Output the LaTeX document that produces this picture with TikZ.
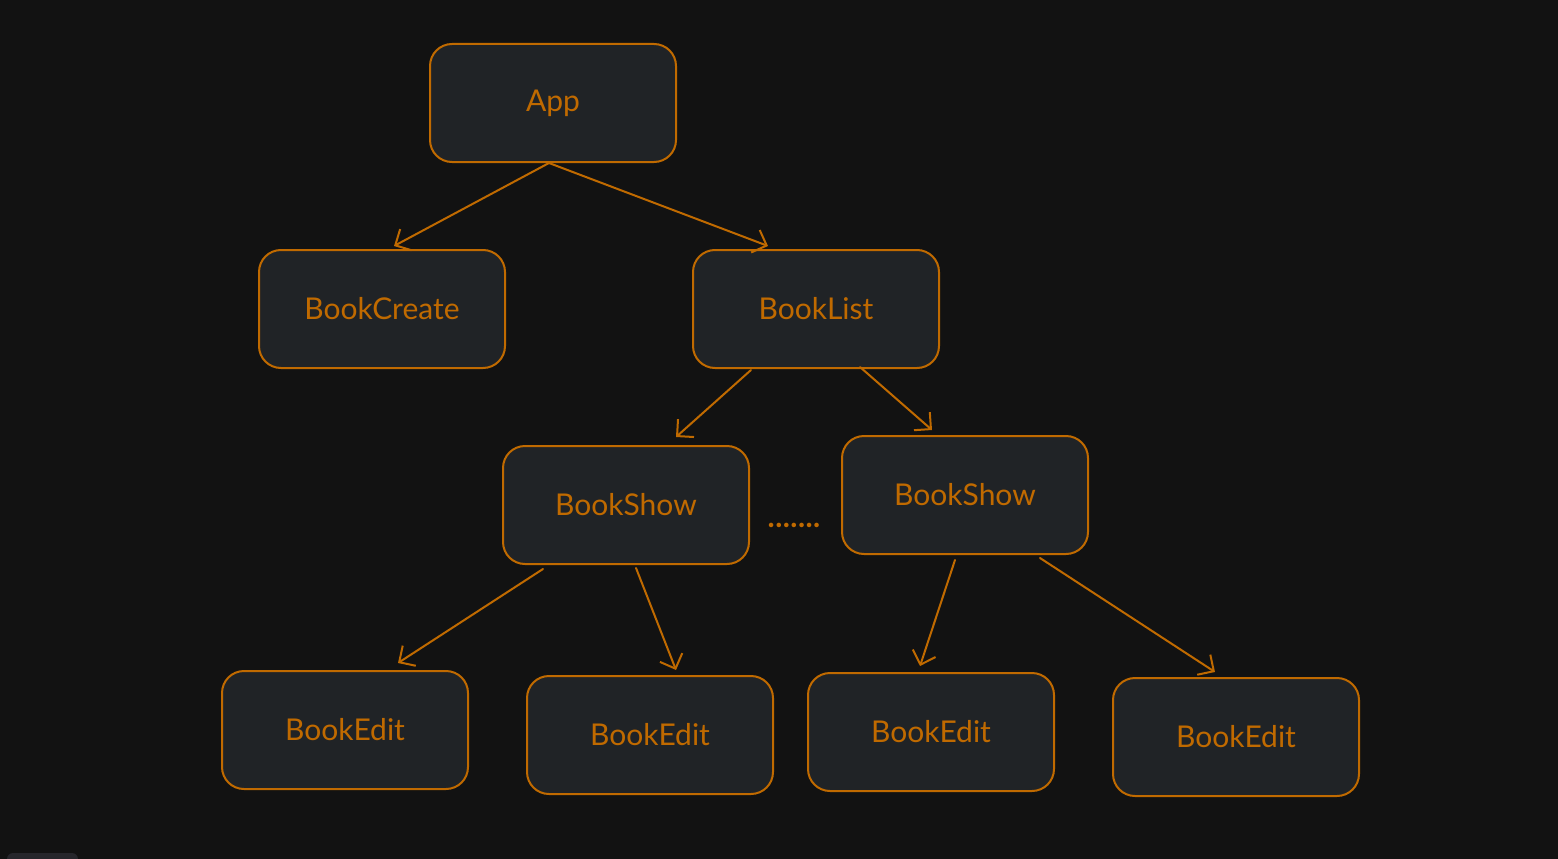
\documentclass[tikz,border=0pt]{standalone}
\usepackage{fontspec}
\setmainfont{Lato}
\usetikzlibrary{arrows.meta}
\definecolor{bg}{HTML}{121212}
\definecolor{boxfill}{HTML}{202326}
\definecolor{stroke}{HTML}{C06A00}
\definecolor{tabgray}{HTML}{26262B}
\tikzset{
  comp/.style={draw=stroke, fill=boxfill, line width=2pt, rounded corners=22pt,
    minimum width=246pt, minimum height=118pt, inner sep=0pt,
    text=stroke, font=\fontsize{30}{36}\selectfont},
  arr/.style={draw=stroke, line width=2pt, line cap=round,
    -{Straight Barb[length=12pt,width=24pt,line width=2pt]}},
}
\begin{document}
\begin{tikzpicture}[x=1pt,y=-1pt]
\fill[bg] (0,0) rectangle (1558,859);
\useasboundingbox (0,0) rectangle (1558,859);
\fill[tabgray, rounded corners=6pt] (7,853) rectangle (78,870);

\node[comp] (app) at (553,103) {App};
\node[comp] (bcreate) at (382,309) {BookCreate};
\node[comp] (blist) at (816,309) {BookList};
\node[comp] (bshowa) at (626,505) {BookShow};
\node[comp] (bshowb) at (965,495) {BookShow};
\node[comp] (bedita) at (345,730) {BookEdit};
\node[comp] (beditb) at (650,735) {BookEdit};
\node[comp] (beditc) at (931,732) {BookEdit};
\node[comp] (beditd) at (1236,737) {BookEdit};
\node[text=stroke, font=\fontsize{30}{36}\selectfont\bfseries\addfontfeature{LetterSpace=1.5}, anchor=base, inner sep=0pt] (dots) at (794,527) {.......};

\draw[arr] ([xshift=-4pt]app.south) -- ([xshift=12pt,yshift=3pt]bcreate.north);
\draw[arr] ([xshift=-4pt]app.south) -- ([xshift=-48pt,yshift=3pt]blist.north);
\draw[arr] ([xshift=-65pt,yshift=-1pt]blist.south) -- ([xshift=50pt,yshift=8pt]bshowa.north);
\draw[arr] ([xshift=44pt,yshift=2pt]blist.south) -- ([xshift=-33pt,yshift=5pt]bshowb.north);
\draw[arr] ([xshift=-83pt,yshift=-4pt]bshowa.south) -- ([xshift=53pt,yshift=7pt]bedita.north);
\draw[arr] ([xshift=10pt,yshift=-3pt]bshowa.south) -- ([xshift=26pt,yshift=5pt]beditb.north);
\draw[arr] ([xshift=-10pt,yshift=-5pt]bshowb.south) -- ([xshift=-11pt,yshift=6pt]beditc.north);
\draw[arr] ([xshift=75pt,yshift=-3pt]bshowb.south) -- ([xshift=-21pt,yshift=5pt]beditd.north);
\end{tikzpicture}
\end{document}
